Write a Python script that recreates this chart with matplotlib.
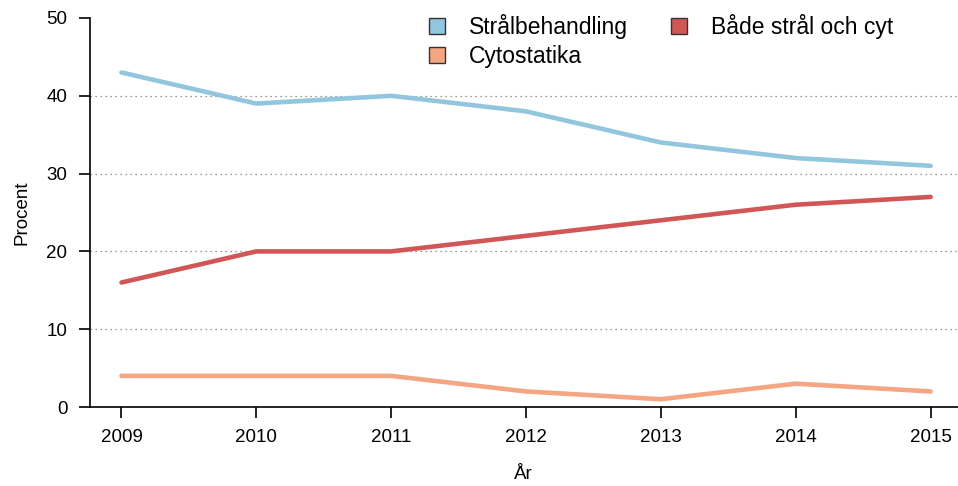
import matplotlib.pyplot as plt
from matplotlib.lines import Line2D

plt.rcParams['font.family'] = ['Liberation Sans', 'DejaVu Sans']

# Data
years = [2009, 2010, 2011, 2012, 2013, 2014, 2015]
stral = [43, 39, 40, 38, 34, 32, 31]
cyto = [4, 4, 4, 2, 1, 3, 2]
bada = [16, 20, 20, 22, 24, 26, 27]
grid_levels = [10, 20, 30, 40]

c_stral = '#92c5de'
c_cyto = '#f4a582'
c_bada = '#d15656'

fig = plt.figure(figsize=(9.58, 4.86), dpi=100)
ax = fig.add_axes([89.5 / 958, 79 / 486, 1 - 89.5 / 958, 389 / 486])

xmin, xmax = 2008.763, 2015.203
ax.hlines(grid_levels, xmin, xmax, colors='#777777', linestyles=(0, (1, 3)), linewidth=0.9, zorder=1)

ax.plot(years, stral, color=c_stral, linewidth=3.3, solid_capstyle='round', zorder=3)
ax.plot(years, bada, color=c_bada, linewidth=3.3, solid_capstyle='round', zorder=3)
ax.plot(years, cyto, color=c_cyto, linewidth=3.3, solid_capstyle='round', zorder=3)

ax.set_xlim(xmin, xmax)
ax.set_ylim(0, 50)
ax.set_xticks(years)
ax.set_yticks([0, 10, 20, 30, 40, 50])

for s in ['top', 'right']:
    ax.spines[s].set_visible(False)
ax.spines['left'].set_linewidth(1.2)
ax.spines['bottom'].set_linewidth(1.2)
ax.tick_params(axis='both', direction='out', length=8, width=1.2, labelsize=13.5, pad=8)

ax.set_xlabel('År', fontsize=13.5, labelpad=14)
ax.set_ylabel('Procent', fontsize=13.5, labelpad=11)

handles = [
    Line2D([], [], linestyle='none', marker='s', markersize=11, markerfacecolor=c_stral, markeredgecolor='#333333'),
    Line2D([], [], linestyle='none', marker='s', markersize=11, markerfacecolor=c_cyto, markeredgecolor='#333333'),
    Line2D([], [], linestyle='none', marker='s', markersize=11, markerfacecolor=c_bada, markeredgecolor='#333333'),
]
labels = ['Strålbehandling', 'Cytostatika', 'Både strål och cyt']
fig.legend(handles, labels, ncol=2, frameon=False, fontsize=16.5,
           loc='upper left', bbox_to_anchor=(416 / 958, 1 - 5 / 486),
           handlelength=1.0, handletextpad=0.9, columnspacing=1.75,
           labelspacing=0.25, borderaxespad=0)

fig.savefig('out.png', dpi=100)
